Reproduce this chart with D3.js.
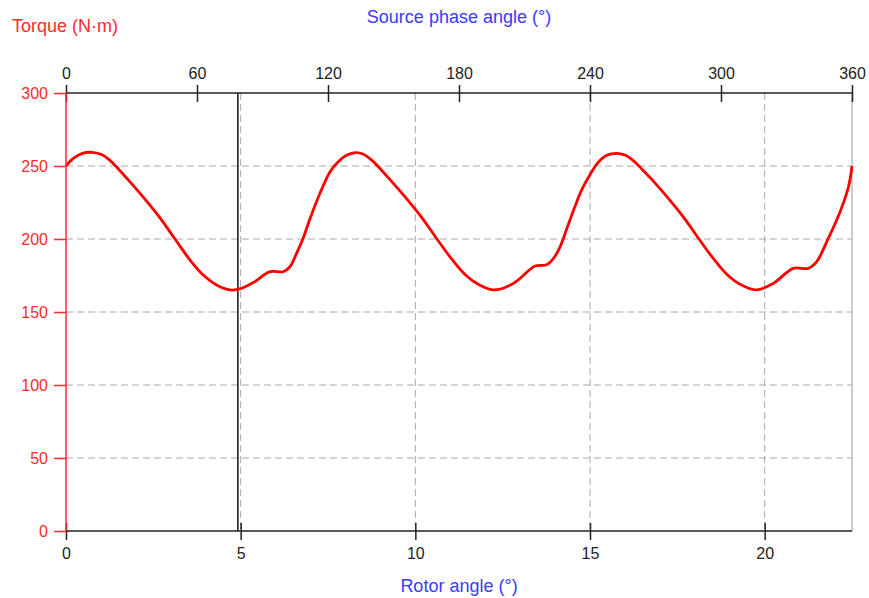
<!DOCTYPE html>
<html>
<head>
<meta charset="utf-8">
<script src="https://cdn.jsdelivr.net/npm/d3@7"></script>
<style>
  html, body { margin: 0; padding: 0; background: #fff; }
  svg { display: block; font-family: "Liberation Sans", Arial, Helvetica, sans-serif; }
</style>
</head>
<body>
<svg id="chart" width="869" height="598"></svg>
<script>
// ---- data ----
const rotorAngle = [
  0, 0.2, 0.45, 0.74, 1.0, 1.25, 1.5, 1.8, 2.2, 2.69, 3.12, 3.55, 3.93, 4.31, 4.70, 5.0,
  5.36, 5.84, 6.22, 6.41, 6.60, 6.78, 6.99, 7.27, 7.56, 7.78, 8.03, 8.3,
  8.5, 8.75, 9.0, 9.3, 9.7, 10.19, 10.62, 11.05, 11.43, 11.81, 12.25, 12.81, 13.43, 13.76,
  13.95, 14.15, 14.35, 14.55, 14.75, 15.0, 15.2, 15.48, 15.76,
  16.0, 16.25, 16.5, 16.8, 17.2, 17.69, 18.12, 18.55, 18.93, 19.31, 19.77, 20.25, 20.82, 21.25,
  21.49, 21.80, 22.16, 22.40, 22.5
];
const torque = [
  250, 255, 258.5, 259.4, 258, 254, 248, 240, 229, 214.5, 200, 185.6, 175.3, 168.5, 165.1, 166,
  170.1, 177.6, 177.6, 181, 190.2, 200, 214.2, 231.3, 246.1, 252.5, 257.3, 259.2,
  258.2, 254, 248, 240, 229, 214.5, 200, 186, 175.5, 168.8, 165.1, 169.6, 181.5, 182.3,
  186.5, 195, 208, 221, 233, 244, 251.5, 257.3, 258.7,
  257.5, 253.5, 247.5, 240, 229, 214.5, 200, 186, 175.5, 168.8, 165.1, 169.6, 179.9, 179.9,
  184.5, 199.3, 218.7, 235.8, 250
];
const rotorTicks = [0, 5, 10, 15, 20];
const phaseTicks = [0, 60, 120, 180, 240, 300, 360];
const torqueTicks = [0, 50, 100, 150, 200, 250, 300];
const cursorRotor = 4.92;

const titles = {
  torque: "Torque (N·m)",
  phase: "Source phase angle (°)",
  rotor: "Rotor angle (°)"
};

// ---- layout ----
const L = 66, R = 852, T = 93, B = 531;
const svg = d3.select("#chart");

const x = d3.scaleLinear().domain([0, 22.5]).range([L, R]);
const xTop = d3.scaleLinear().domain([0, 360]).range([L, R]);
const y = d3.scaleLinear().domain([0, 300]).range([B, T]);

const red = "#ff2a2a", blue = "#3a3aff", grid = "#a8a8a8";

// grid
svg.append("g").selectAll("line.h")
  .data(torqueTicks.filter(d => d > 0 && d < 300))
  .join("line")
  .attr("x1", L).attr("x2", R)
  .attr("y1", d => y(d)).attr("y2", d => y(d))
  .attr("stroke", grid).attr("stroke-width", 1).attr("stroke-dasharray", "7,4");

svg.append("g").selectAll("line.v")
  .data(rotorTicks.filter(d => d > 0))
  .join("line")
  .attr("x1", d => x(d)).attr("x2", d => x(d))
  .attr("y1", T).attr("y2", B)
  .attr("stroke", grid).attr("stroke-width", 1).attr("stroke-dasharray", "7,4");

// right border
svg.append("line")
  .attr("x1", R).attr("x2", R).attr("y1", T).attr("y2", B)
  .attr("stroke", "#bdbdbd").attr("stroke-width", 1.5);

// cursor line
svg.append("line")
  .attr("x1", x(cursorRotor)).attr("x2", x(cursorRotor))
  .attr("y1", T).attr("y2", B)
  .attr("stroke", "#111").attr("stroke-width", 1.5);

// curve
const line = d3.line()
  .x((d, i) => x(rotorAngle[i]))
  .y((d, i) => y(torque[i]))
  .curve(d3.curveCatmullRom.alpha(0.5));
svg.append("path")
  .datum(torque)
  .attr("d", line)
  .attr("fill", "none")
  .attr("stroke", "#ff0000")
  .attr("stroke-width", 2.8)
  .attr("stroke-linejoin", "round");

// bottom axis
const gB = svg.append("g").attr("transform", `translate(0,${B})`)
  .call(d3.axisBottom(x).tickValues(rotorTicks).tickSize(8).tickPadding(0).tickSizeOuter(0));
gB.select(".domain").attr("stroke", "#222").attr("stroke-width", 1.5).attr("d", `M${L},0H${R}`);
gB.selectAll(".tick line").attr("y1", -8).attr("y2", 9).attr("stroke", "#222").attr("stroke-width", 1.5);
gB.selectAll(".tick text").attr("y", 28).attr("dy", 0).attr("fill", "#222")
  .style("font-size", "16px").style("font-family", "'Liberation Sans', Arial, sans-serif");

// top axis
const gT = svg.append("g").attr("transform", `translate(0,${T})`)
  .call(d3.axisTop(xTop).tickValues(phaseTicks).tickSize(8).tickSizeOuter(0));
gT.select(".domain").attr("stroke", "#222").attr("stroke-width", 1.5).attr("d", `M${L},0H${R}`);
gT.selectAll(".tick line").attr("y1", -8).attr("y2", 9).attr("stroke", "#222").attr("stroke-width", 1.5);
gT.selectAll(".tick text").attr("y", -14).attr("dy", 0).attr("fill", "#222")
  .style("font-size", "16px").style("font-family", "'Liberation Sans', Arial, sans-serif");

// left axis
const gL = svg.append("g").attr("transform", `translate(${L},0)`)
  .call(d3.axisLeft(y).tickValues(torqueTicks).tickSize(12).tickPadding(6).tickSizeOuter(0));
gL.select(".domain").attr("stroke", red).attr("stroke-width", 1.5).attr("d", `M0,${T}V${B}`);
gL.selectAll(".tick line").attr("stroke", red).attr("stroke-width", 1.5);
gL.selectAll(".tick text").attr("fill", red).attr("dy", "0.36em")
  .style("font-size", "16px").style("font-family", "'Liberation Sans', Arial, sans-serif");

// titles
svg.append("text").attr("x", 12).attr("y", 32).attr("fill", red)
  .style("font-size", "18px").text(titles.torque);
svg.append("text").attr("x", (L + R) / 2).attr("y", 23).attr("text-anchor", "middle").attr("fill", blue)
  .style("font-size", "18px").text(titles.phase);
svg.append("text").attr("x", (L + R) / 2).attr("y", 592).attr("text-anchor", "middle").attr("fill", blue)
  .style("font-size", "18px").text(titles.rotor);
</script>
</body>
</html>
